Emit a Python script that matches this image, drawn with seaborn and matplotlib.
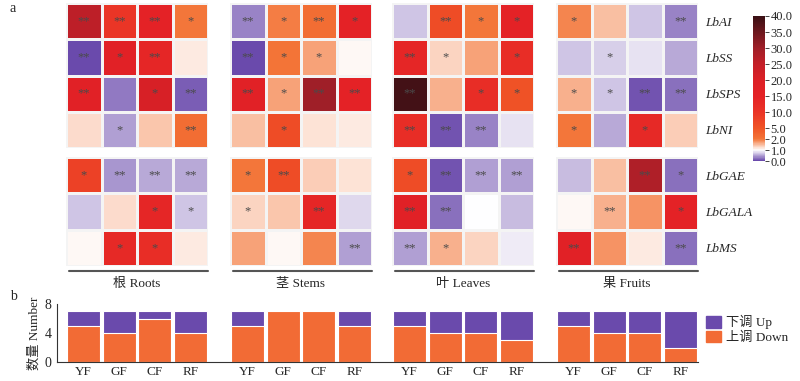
import numpy as np
import pandas as pd
import matplotlib
matplotlib.use('Agg')
import matplotlib.pyplot as plt
import seaborn as sns
from matplotlib.colors import LinearSegmentedColormap
from matplotlib.patches import Patch

sns.set_style('white')
plt.rcParams['font.family'] = ['Liberation Serif', 'Noto Sans CJK SC']

genes = ['LbAI', 'LbSS', 'LbSPS', 'LbNI', 'LbGAE', 'LbGALA', 'LbMS']
stages = ['YF', 'GF', 'CF', 'RF']
tissues = ['根 Roots', '茎 Stems', '叶 Leaves', '果 Fruits']

# relative expression, rows = genes, cols = stages
roots = [[26, 10, 15, 2.0],
         [0.05, 17, 14, 1.15],
         [17, 0.28, 21, 0.12],
         [1.3, 0.48, 1.43, 2.8],
         [8, 0.44, 0.55, 0.55],
         [0.72, 1.3, 14, 0.72],
         [1.06, 13, 12, 1.2]]
stems = [[0.32, 1.97, 2.8, 15],
         [0.03, 2.2, 1.69, 1.08],
         [17, 1.69, 30, 15],
         [1.49, 6.5, 1.25, 1.17],
         [2.1, 6.5, 1.37, 1.25],
         [1.34, 1.43, 14, 0.83],
         [1.72, 1.08, 1.9, 0.52]]
leaves = [[0.72, 6.5, 2.1, 15],
          [14, 1.34, 1.69, 12],
          [39, 1.6, 12, 5.5],
          [12, 0.1, 0.32, 0.86],
          [6.5, 0.08, 0.52, 0.52],
          [17, 0.21, 1.0, 0.67],
          [0.48, 1.6, 1.34, 0.9]]
fruits = [[1.93, 1.49, 0.72, 0.36],
          [0.7, 0.77, 0.86, 0.55],
          [1.6, 0.7, 0.1, 0.21],
          [2.1, 0.55, 13, 1.37],
          [0.67, 1.49, 28, 0.25],
          [1.08, 1.6, 1.8, 15],
          [17, 1.78, 1.2, 0.25]]

sig_roots = [['**', '**', '**', '*'], ['**', '*', '**', ''], ['**', '', '*', '**'], ['', '*', '', '**'],
             ['*', '**', '**', '**'], ['', '', '*', '*'], ['', '*', '*', '']]
sig_stems = [['**', '*', '**', '*'], ['**', '*', '*', ''], ['**', '*', '**', '**'], ['', '*', '', ''],
             ['*', '**', '', ''], ['*', '', '**', ''], ['', '', '', '**']]
sig_leaves = [['', '**', '*', '*'], ['**', '*', '', '*'], ['**', '', '*', '*'], ['**', '**', '**', ''],
              ['*', '**', '**', '**'], ['**', '**', '', ''], ['**', '*', '', '']]
sig_fruits = [['*', '', '', '**'], ['', '*', '', ''], ['*', '*', '**', '**'], ['*', '', '*', ''],
              ['', '', '**', '*'], ['', '**', '', '*'], ['**', '', '', '**']]

# panel b: number of genes per stage
down_counts = [5, 4, 6, 4, 5, 7, 7, 5, 5, 4, 4, 3, 5, 4, 4, 2]
total_counts = [7] * 16

# colour bar scale (non-linear)
cb_values = [0, 1, 2, 5, 10, 15, 20, 25, 30, 35, 40]
cb_pos = [0, 1, 2, 3, 4.48, 5.96, 7.44, 8.92, 10.4, 11.88, 13.36]
pmax = cb_pos[-1]
stops = [(0, '#6a4aac'), (1, '#ffffff'), (2, '#f37538'), (3, '#f05526'), (4.48, '#ea3426'),
         (5.96, '#e42226'), (7.44, '#dc2026'), (8.92, '#c41f28'), (10.4, '#a01f28'), (13.36, '#3a1014')]
cmap = LinearSegmentedColormap.from_list('fc', [(p / pmax, c) for p, c in stops])

W, H = 800, 381
fig = plt.figure(figsize=(W / 100, H / 100), dpi=100)


def px(x0, y0, w, h):
    return [x0 / W, 1 - (y0 + h) / H, w / W, h / H]


x_starts = [66, 230, 392, 556]
cw = 142
cax = fig.add_axes(px(753, 16, 12, 145))
data_sets = [roots, stems, leaves, fruits]
sig_sets = [sig_roots, sig_stems, sig_leaves, sig_fruits]

for i, (vals, sig) in enumerate(zip(data_sets, sig_sets)):
    df = pd.DataFrame(np.interp(np.array(vals), cb_values, cb_pos), index=genes, columns=stages)
    sg = np.array(sig)
    for rows, (y0, h) in zip([slice(0, 4), slice(4, 7)], [(3, 145), (157, 109)]):
        ax = fig.add_axes(px(x_starts[i], y0, cw, h))
        first = (i == 0 and y0 == 3)
        sns.heatmap(df.iloc[rows], ax=ax, cmap=cmap, vmin=0, vmax=pmax,
                    annot=sg[rows], fmt='', annot_kws={'color': '#4a4a4a', 'fontsize': 9},
                    linewidths=1, linecolor='#f4f4f4',
                    cbar=first, cbar_ax=cax if first else None)
        ax.set_xticks([])
        ax.set_xlabel('')
        ax.set_ylabel('')
        if i == 3:
            ax.yaxis.tick_right()
            ax.set_yticklabels(df.index[rows], rotation=0, style='italic', fontsize=9.5)
            ax.tick_params(axis='y', length=0, pad=5)
        else:
            ax.set_yticks([])
    # underline and tissue name
    fig.add_artist(plt.Line2D([(x_starts[i] + 3) / W, (x_starts[i] + cw) / W], [1 - 271 / H, 1 - 271 / H],
                              color='#555555', lw=1.5))
    fig.text((x_starts[i] + cw / 2) / W, 1 - 284 / H, tissues[i], ha='center', va='center', fontsize=9.5)

cax.set_yticks(cb_pos)
cax.set_yticklabels([f'{v:.1f}' for v in cb_values], fontsize=9)
cax.tick_params(axis='y', length=3, width=0.6, pad=1)
for s in cax.spines.values():
    s.set_visible(False)

# panel b
axb = fig.add_axes(px(57, 304, 641, 58))
centers = [x_starts[i] + (j + 0.5) * cw / 4 for i in range(4) for j in range(4)]
axb.bar(centers, total_counts, width=33, color='#6a4aac', edgecolor='white', linewidth=0.8)
axb.bar(centers, down_counts, width=33, color='#f26b35', edgecolor='white', linewidth=0.8)
axb.set_xlim(57, 698)
axb.set_ylim(0, 8)
axb.set_yticks([0, 4, 8])
axb.set_xticks(centers)
axb.set_xticklabels(stages * 4, fontsize=9.5)
axb.tick_params(axis='x', direction='in', length=3, width=0.8, pad=3)
axb.tick_params(axis='y', direction='out', length=3, width=0.8, labelsize=10, pad=1)
axb.set_ylabel('数量 Number', fontsize=9.5, labelpad=3)
for s in ['top', 'right']:
    axb.spines[s].set_visible(False)
for s in ['left', 'bottom']:
    axb.spines[s].set_color('#333333')
    axb.spines[s].set_linewidth(0.8)
handles = [Patch(color='#6a4aac', label='下调 Up'), Patch(color='#f26b35', label='上调 Down')]
fig.legend(handles=handles, loc='upper left', bbox_to_anchor=(706 / W, 1 - 315 / H), frameon=False,
           fontsize=9.5, handlelength=1.1, handleheight=1.0, handletextpad=0.4, labelspacing=0.1,
           borderaxespad=0, borderpad=0)

fig.text(10 / W, 1 - 9 / H, 'a', fontsize=10, ha='left', va='center')
fig.text(10 / W, 1 - 297 / H, 'b', fontsize=10, ha='left', va='center')

fig.savefig('out.png', dpi=100)
